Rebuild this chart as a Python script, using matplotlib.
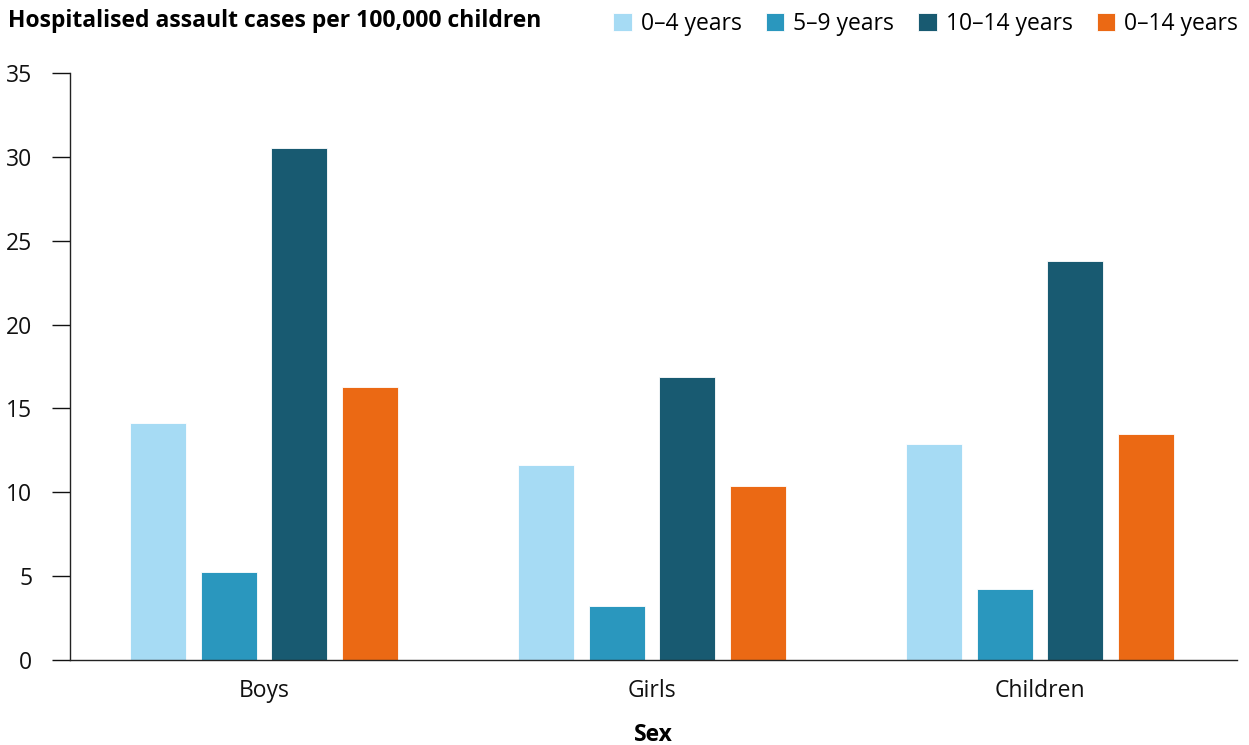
import matplotlib
matplotlib.use("Agg")
import matplotlib.pyplot as plt
import numpy as np

plt.rcParams['font.family'] = ['Open Sans', 'DejaVu Sans']

categories = ["Boys", "Girls", "Children"]
series_names = ["0–4 years", "5–9 years", "10–14 years", "0–14 years"]
age_0_4 = [14.15, 11.6, 12.9]
age_5_9 = [5.25, 3.2, 4.25]
age_10_14 = [30.5, 16.85, 23.8]
age_0_14 = [16.3, 10.4, 13.45]
yticks = [0, 5, 10, 15, 20, 25, 30, 35]

series = [age_0_4, age_5_9, age_10_14, age_0_14]
colors = ["#A6DBF4", "#2A97BE", "#185A71", "#EB6914"]

fig = plt.figure(figsize=(12.49, 7.45), dpi=100)
ax = fig.add_axes([70/1249, 1 - 660/745, (1237-70)/1249, (660-73)/745])

x = np.arange(len(categories))
width = 0.144
step = 0.182
for i, (vals, c, name) in enumerate(zip(series, colors, series_names)):
    ax.bar(x + (i - 1.5) * step, vals, width=width, color=c, label=name,
           edgecolor='white', linewidth=0.6)

fs = 16.5
ax.set_xlim(-0.5, 2.508)
ax.set_ylim(0, 35)
ax.set_yticks(yticks)
ax.set_xticks(x)
ax.set_xticklabels(categories)
ax.tick_params(axis='x', length=0, pad=14, labelsize=fs, colors='#111111')
ax.tick_params(axis='y', length=13, width=1, labelsize=fs, pad=14, colors='#111111')
for s in ['top', 'right']:
    ax.spines[s].set_visible(False)
for s in ['left', 'bottom']:
    ax.spines[s].set_color('#222222')
    ax.spines[s].set_linewidth(1)

ax.set_xlabel("Sex", fontsize=fs, fontweight='bold', labelpad=14)
fig.text(8/1249, 1 - 21/745, "Hospitalised assault cases per 100,000 children",
         fontsize=fs, fontweight='bold', va='center', ha='left')

leg = fig.legend(loc='center right', bbox_to_anchor=(1238/1249, 1 - 24/745), ncol=4,
                 frameon=False, fontsize=fs, handlelength=0.8, handleheight=0.8,
                 handletextpad=0.4, columnspacing=1.05, borderaxespad=0, borderpad=0)

fig.savefig("out.png", dpi=100)
